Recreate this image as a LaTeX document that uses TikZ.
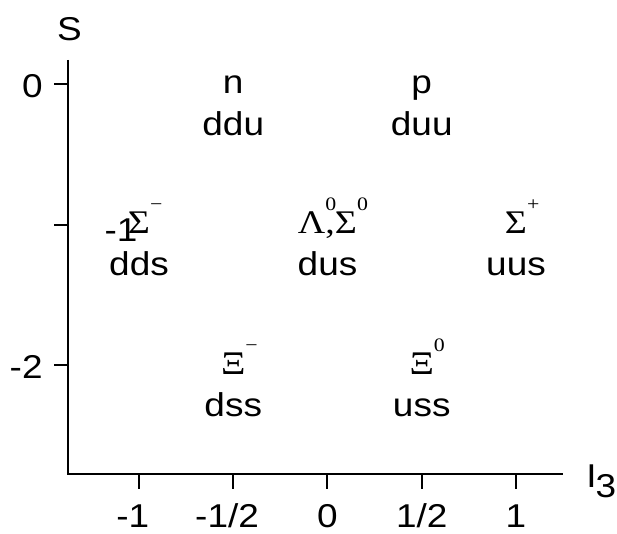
\documentclass[tikz,border=0pt]{standalone}
\usepackage{fontspec}
\setmainfont{Liberation Sans}[FakeStretch=1.12]
\newfontfamily\grkfont{Liberation Serif}[FakeStretch=1.15]
\usetikzlibrary{positioning}
\newcommand{\hsup}[1]{\rlap{\raisebox{11.5pt}{\grkfont\fontsize{9.5}{9.5}\selectfont #1}}}

\begin{document}
\begin{tikzpicture}[
  x=94.25pt, y=70.25pt,
  axis/.style={line width=1pt},
  lbl/.style={inner sep=0pt, font=\fontsize{16.5}{20}\selectfont},
  ticklbl/.style={lbl, anchor=base},
  sym/.style={lbl, anchor=base, yshift=-4.5pt},
  quark/.style={lbl, anchor=base}
]
\useasboundingbox (-1.7374,-3.2028) rectangle (1.5358,0.5979);

% axes
\coordinate (corner) at (-1.3767,-2.778);
\coordinate (ytop) at (-1.3767,0.171);
\coordinate (xend) at (1.249,-2.778);
\draw[axis] (ytop) -- (corner) -- (xend);
\node[lbl] (slbl) at (-1.3687,0.388) {S};
\node[lbl, anchor=base west] (ilbl) at (1.3714,-2.8754) {I\kern-0.5pt\raisebox{-5pt}{3}};

% ticks on S
\draw[axis] (-1.3767,0) -- ++(-7pt,0);
\draw[axis] (-1.3767,-1) -- ++(-7pt,0);
\draw[axis] (-1.3767,-2) -- ++(-7pt,0);
\node[lbl, anchor=base east] (s0) at (-1.5093,-0.0996) {0};
\node[lbl] (s1) at (-1.0955,-1.039) {-1};
\node[lbl, anchor=base east] (s2) at (-1.5093,-2.0996) {-2};

% ticks on I3
\draw[axis] (-1,-2.778) -- ++(0,-7.5pt);
\draw[axis] (-0.5,-2.778) -- ++(0,-7.5pt);
\draw[axis] (0,-2.778) -- ++(0,-7.5pt);
\draw[axis] (0.5,-2.778) -- ++(0,-7.5pt);
\draw[axis] (1,-2.778) -- ++(0,-7.5pt);
\node[ticklbl] (im1) at (-1,-3.153) {\llap{-}1};
\node[ticklbl] (imh) at (-0.5,-3.153) {\llap{-}1/2};
\node[ticklbl] (i0) at (0,-3.153) {0};
\node[ticklbl] (iph) at (0.5,-3.153) {1/2};
\node[ticklbl] (ip1) at (1,-3.153) {1};

% baryon octet
\node[sym] (nsym) at (-0.5,0) {n};
\node[quark] (nq) at ([yshift=-21pt]nsym.base) {ddu};
\node[sym] (psym) at (0.5,0) {p};
\node[quark] (pq) at ([yshift=-21pt]psym.base) {duu};
\node[sym] (sigm) at (-1,-1) {\grkfont Σ\hsup{−}};
\node[quark] (sigmq) at ([yshift=-21pt]sigm.base) {dds};
\node[sym] (lam) at (0,-1) {\grkfont Λ\hsup{0},Σ\hsup{0}};
\node[quark] (lamq) at ([yshift=-21pt]lam.base) {dus};
\node[sym] (sigp) at (1,-1) {\grkfont Σ\hsup{+}};
\node[quark] (sigpq) at ([yshift=-21pt]sigp.base) {uus};
\node[sym] (xim) at (-0.5,-2) {\grkfont Ξ\hsup{−}};
\node[quark] (ximq) at ([yshift=-21pt]xim.base) {dss};
\node[sym] (xiz) at (0.5,-2) {\grkfont Ξ\hsup{0}};
\node[quark] (xizq) at ([yshift=-21pt]xiz.base) {uss};
\end{tikzpicture}
\end{document}
